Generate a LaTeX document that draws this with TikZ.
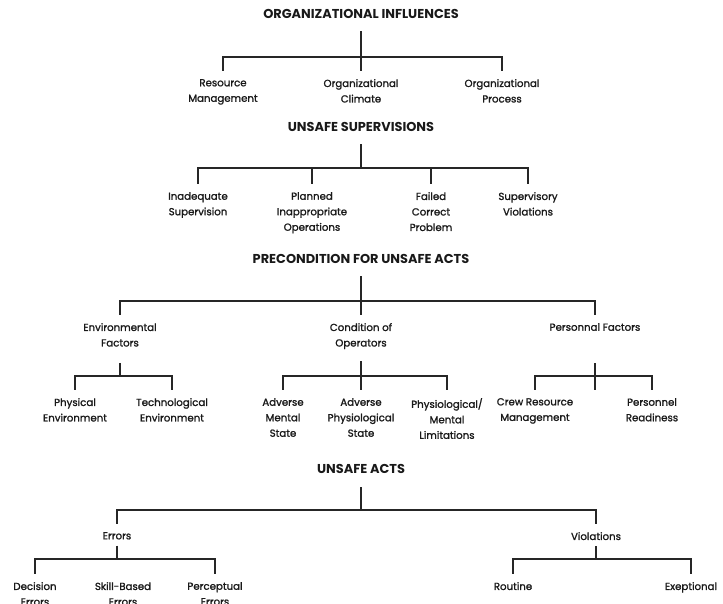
\documentclass[tikz,border=0pt]{standalone}
\usepackage{fontspec}
\setmainfont{Poppins}
\newfontfamily\leaffont[FakeBold=1.4]{Poppins}
\usepackage{tikz}

\begin{document}
\begin{tikzpicture}[x=1pt,y=-1pt]
			\tikzstyle{heading}=[font=\bfseries\fontsize{12.9}{14}\selectfont, text=black!90, inner sep=0pt, anchor=base]
			\tikzstyle{leaf}=[font=\leaffont\fontsize{10.2}{15.5}\selectfont, text=black!90, align=center, inner sep=0pt, anchor=north]
			\tikzstyle{branch}=[draw=black!85, line width=1.1pt, shorten >=8pt]
			\tikzstyle{stem}=[draw=black!85, line width=1.1pt, shorten <=12pt]
			\useasboundingbox (0,0) rectangle (723,604);

			% organizational influences
			\node[heading] at (361, 19) (orgInfluences) {ORGANIZATIONAL INFLUENCES};
			\coordinate (orgJoint) at (361, 57);
			\node[leaf] at (223, 79) (resourceManagement) {Resource\\Management};
			\node[leaf] at (361, 79) (orgClimate) {Organizational\\Climate};
			\node[leaf] at (502, 79) (orgProcess) {Organizational\\Process};
			\path[stem, branch] (orgInfluences) -- (orgClimate);
			\path[branch] (orgJoint) -| (resourceManagement);
			\path[branch] (orgJoint) -| (orgProcess);

			% unsafe supervisions
			\node[heading] at (361, 132) (unsafeSupervisions) {UNSAFE SUPERVISIONS};
			\coordinate (supJoint) at (361, 168);
			\node[leaf] at (198, 192) (inadequateSupervision) {Inadequate\\Supervision};
			\node[leaf] at (312, 192) (plannedOperations) {Planned\\Inappropriate\\Operations};
			\node[leaf] at (431, 192) (failedCorrect) {Failed\\Correct\\Problem};
			\node[leaf] at (528, 192) (supViolations) {Supervisory\\Violations};
			\path[stem] (unsafeSupervisions) -- (supJoint);
			\path[branch] (supJoint) -| (inadequateSupervision);
			\path[branch] (supJoint) -| (plannedOperations);
			\path[branch] (supJoint) -| (failedCorrect);
			\path[branch] (supJoint) -| (supViolations);

			% preconditions
			\node[heading] at (361, 264) (preconditions) {PRECONDITION FOR UNSAFE ACTS};
			\coordinate (preJoint) at (361, 301);
			\node[leaf] at (120, 323) (envFactors) {Environmental\\Factors};
			\node[leaf] at (361, 323) (condOperators) {Condition of\\Operators};
			\node[leaf] at (595, 323) (personalFactors) {Personnal Factors};
			\path[stem, branch] (preconditions) -- (condOperators);
			\path[branch] (preJoint) -| (envFactors);
			\path[branch] (preJoint) -| (personalFactors);

			\coordinate (envJoint) at (120, 376);
			\node[leaf] at (75, 398) (physicalEnv) {Physical\\Environment};
			\node[leaf] at (172, 398) (technologicalEnv) {Technological\\Environment};
			\path[stem, shorten <=16pt] (envFactors) -- (envJoint);
			\path[branch] (envJoint) -| (physicalEnv);
			\path[branch] (envJoint) -| (technologicalEnv);

			\coordinate (condJoint) at (361, 376);
			\node[leaf] at (283, 398) (adverseMental) {Adverse\\Mental\\State};
			\node[leaf] at (361, 398) (adversePhysiological) {Adverse\\Physiological\\State};
			\node[leaf] at (447, 398) (mentalLimitations) {Physiological/\\Mental\\Limitations};
			\path[stem, branch, shorten <=12pt] (condOperators) -- (adversePhysiological);
			\path[branch] (condJoint) -| (adverseMental);
			\path[branch] (condJoint) -| (mentalLimitations);

			\coordinate (persJoint) at (595, 376);
			\coordinate (persEnd) at (595, 390);
			\node[leaf] at (535, 398) (crewResource) {Crew Resource\\Management};
			\node[leaf] at (652, 398) (personnelReadiness) {Personnel\\Readiness};
			\path[stem, shorten <=32pt] (personalFactors) -- (persEnd);
			\path[branch] (persJoint) -| (crewResource);
			\path[branch] (persJoint) -| (personnelReadiness);

			% unsafe acts
			\node[heading] at (361, 473) (unsafeActs) {UNSAFE ACTS};
			\coordinate (actsJoint) at (361, 510);
			\node[leaf] at (117, 532) (errors) {Errors};
			\node[leaf] at (596, 532) (violations) {Violations};
			\path[stem, shorten <=14pt] (unsafeActs) -- (actsJoint);
			\path[branch] (actsJoint) -| (errors);
			\path[branch] (actsJoint) -| (violations);

			\coordinate (errJoint) at (117, 559);
			\node[leaf] at (35, 582) (decisionErrors) {Decision\\Errors};
			\node[leaf] at (123, 582) (skillErrors) {Skill-Based\\Errors};
			\node[leaf] at (215, 582) (perceptualErrors) {Perceptual\\Errors};
			\path[stem, shorten <=6pt] (errors) -- (errJoint);
			\path[branch] (errJoint) -| (decisionErrors);
			\path[branch] (errJoint) -| (perceptualErrors);

			\coordinate (violJoint) at (596, 559);
			\node[leaf] at (513, 582) (routine) {Routine};
			\node[leaf] at (691, 582) (exeptional) {Exeptional};
			\path[stem, shorten <=6pt] (violations) -- (violJoint);
			\path[branch] (violJoint) -| (routine);
			\path[branch] (violJoint) -| (exeptional);
\end{tikzpicture}
\end{document}
